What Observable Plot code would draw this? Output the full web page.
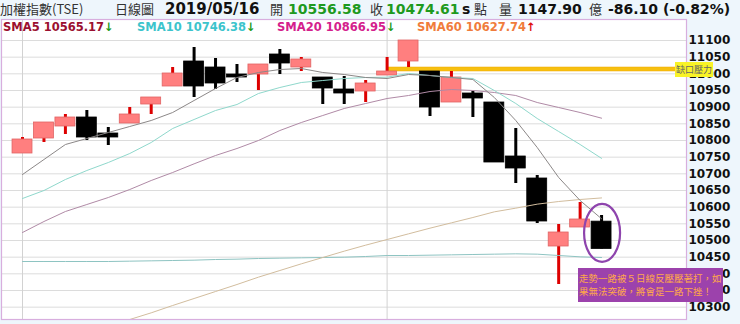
<!DOCTYPE html>
<html><head><meta charset="utf-8">
<script src="https://cdn.jsdelivr.net/npm/d3@7"></script>
<script src="https://cdn.jsdelivr.net/npm/@observablehq/plot@0.6"></script>
<style>
html,body{margin:0;padding:0;background:#eef6fc;width:740px;height:324px;overflow:hidden;}
body{position:relative;font-family:"DejaVu Sans",sans-serif;}
.t{position:absolute;white-space:nowrap;line-height:1;}
.cjk{font-family:"Noto Sans CJK TC","Noto Sans CJK SC",sans-serif;font-size:13px;color:#333;}
.num{font-family:"DejaVu Sans",sans-serif;font-weight:bold;font-size:14px;color:#111;}
.grn{color:#1e9a1e;}
.sma{font-family:"DejaVu Sans",sans-serif;font-weight:bold;font-size:11.5px;}
#chart{position:absolute;left:0;top:18px;z-index:1;}
#legend{position:absolute;left:0;top:0;z-index:2;}
#note{position:absolute;left:578px;top:268px;width:145px;height:34px;background:#9c42ac;color:#ffa84a;z-index:3;
  font-family:"Noto Sans CJK TC",sans-serif;font-size:9.5px;line-height:13px;box-sizing:border-box;padding:4px 0 0 1px;white-space:nowrap;}
#gap{position:absolute;left:675px;top:62px;width:38px;height:15px;background:#f9f326;color:#666;z-index:3;
  font-family:"Noto Sans CJK TC",sans-serif;font-size:9px;line-height:15px;text-align:center;white-space:nowrap;}
</style></head>
<body>
<div id="hdr"></div>
<div id="chart"></div>
<div id="legend"></div>
<div id="gap"></div>
<div id="note"></div>
<script>
// ---------- data ----------
const dates  = ["4/8","4/9","4/10","4/11","4/12","4/15","4/16","4/17","4/18","4/19","4/22","4/23","4/24","4/25","4/26","4/29","4/30","5/2","5/3","5/6","5/7","5/8","5/9","5/10","5/13","5/14","5/15","5/16"];
const opens  = [10761,10806,10842,10869,10821,10851,10908,10962,11037,11019,10998,10998,11058,11019,10989,10953,10947,10995,11037,11007,10914,10941,10914,10752,10686,10482,10539,10556.58];
const highs  = [10809,10854,10878,10890,10839,10899,10929,11019,11079,11046,11028,11028,11073,11049,10989,10992,10980,11049,11100,11007,11007,10947,10914,10836,10695,10548,10614,10575];
const lows   = [10761,10794,10818,10800,10785,10851,10878,10962,10929,10953,10974,10950,10998,11007,10908,10908,10914,10995,11019,10872,10914,10869,10734,10671,10551,10368,10539,10474.61];
const closes = [10803,10854,10869,10809,10809,10878,10929,11001,10962,10971,10989,11028,11031,11043,10956,10941,10971,11007,11100,10899,10989,10926,10734,10716,10557,10524,10563,10474.61];

const sma5   = [10698,10743,10788,10806,10824,10842,10860,10884,10920,10956,10989,11004,11013,11016,11004,10998,10989,10986,10998,10995,10989,10983,10929,10860,10779,10689,10620,10565.17];
const sma10  = [10626,10650,10683,10710,10734,10761,10794,10836,10863,10890,10908,10941,10959,10974,10980,10986,10989,10990,11001,10995,10989,10986,10950,10911,10866,10827,10788,10746.38];
const sma20  = [10524,10557,10587,10608,10629,10653,10680,10704,10730,10755,10776,10800,10830,10854,10875,10896,10911,10926,10935,10947,10953,10950,10944,10935,10914,10899,10884,10866.95];
const sma60  = [10150,10172,10195,10218,10240,10263,10283,10305,10326,10347,10368,10390,10410,10430,10449,10468,10486,10503,10520,10537,10553,10569,10586,10597,10609,10617,10623,10627.74];
const smaLong= [10437,10437,10437,10437,10437,10438,10439,10440,10441,10443,10444,10446,10447,10448,10449,10450,10452,10455,10455,10456,10457,10458,10459,10460,10459,10455,10451,10449];

const yTicks = [10300,10350,10400,10450,10500,10550,10600,10650,10700,10750,10800,10850,10900,10950,11000,11050,11100];
const dividerDates = ["4/8","5/2"];
const gapFrom = "5/2", gapLow = 11007, gapHigh = 11019;

const hdrDate = "2019/05/16", hdrOpen = "10556.58", hdrClose = "10474.61", hdrVol = "1147.90", hdrChg = "-86.10 (-0.82%)";
const smaNames  = ["SMA5","SMA10","SMA20","SMA60"];
const smaLast   = ["10565.17","10746.38","10866.95","10627.74"];
const smaTrend  = ["down","down","down","up"];
const gapText = "缺口壓力";
const noteLines = ["走勢一路被５日線反壓壓著打，如","果無法突破，將會是一路下挫！"];

// ---------- header ----------
const hdr = document.getElementById("hdr");
const H = [
  ["加權指數(TSE)", 0, 1.5, "cjk"],
  ["日線圖", 115, 1.5, "cjk"],
  [hdrDate, 165, 1.8, "num", "font-size:15px"],
  ["開", 270, 1.5, "cjk"],
  [hdrOpen, 288, 2.3, "num grn"],
  ["收", 370, 1.5, "cjk"],
  [hdrClose, 386, 2.3, "num grn"],
  ["s", 462, 2.3, "num"],
  ["點", 474, 1.5, "cjk"],
  ["量", 499, 1.5, "cjk"],
  [hdrVol, 518, 2.3, "num"],
  ["億", 589, 1.5, "cjk"],
  [hdrChg, 608, 2.3, "num"]
];
for (const [txt, x, y, cls, st] of H) {
  const s = document.createElement("span");
  s.className = "t " + cls; s.textContent = txt;
  s.style.cssText = `left:${x}px;top:${y}px;` + (st || "");
  hdr.appendChild(s);
}
const smaColors = ["#9b1030","#3cc4cc","#d4208c","#f07c3c"];
const smaX = [3, 137, 277, 417];
const leg = document.getElementById("legend");
smaNames.forEach((n, k) => {
  const s = document.createElement("span");
  s.className = "t sma";
  s.style.cssText = `left:${smaX[k]}px;top:22px;color:${smaColors[k]}`;
  s.textContent = n + " " + smaLast[k];
  const a = document.createElement("span");
  a.textContent = smaTrend[k] === "up" ? "↑" : "↓";
  a.style.color = smaTrend[k] === "up" ? "#e01010" : "#1a9a1a";
  s.appendChild(a);
  leg.appendChild(s);
});
document.getElementById("gap").textContent = gapText;
document.getElementById("note").innerHTML = noteLines.join("<br>");

// ---------- chart ----------
const candles = dates.map((d, i) => ({i, date: d, open: opens[i], high: highs[i], low: lows[i], close: closes[i], up: closes[i] >= opens[i]}));
const idx = d => dates.indexOf(d);
const series = (arr) => arr.map((v, i) => ({i, v}));
const xDomain = [-0.98, 30.96];

const chart = Plot.plot({
  width: 740, height: 306,
  marginLeft: 1, marginRight: 54, marginTop: 1, marginBottom: 5,
  style: {fontFamily: "DejaVu Sans", fontSize: "12px", fontWeight: "bold", color: "#111", background: "transparent"},
  x: {domain: xDomain, axis: null},
  y: {domain: [10263, 11163], axis: "right", ticks: yTicks, tickSize: 0, tickPadding: 2, tickFormat: d3.format("d"), label: null},
  marks: [
    Plot.frame({fill: "white"}),
    Plot.ruleY(yTicks, {stroke: "#dcdcdc", strokeWidth: 1}),
    Plot.ruleX(dividerDates.map(idx), {stroke: "#d2d2d2", strokeWidth: 1}),
    Plot.rect([{a: idx(gapFrom), lo: gapLow, hi: gapHigh}], {x1: "a", x2: () => xDomain[1], y1: "lo", y2: "hi", fill: "#f7c010", stroke: "#f0a800", strokeWidth: 0.5, clip: true}),
    Plot.ruleX(candles, {x: "i", y1: "low", y2: "high", stroke: d => d.up ? "#dd0000" : "#000", strokeWidth: 3}),
    Plot.rect(candles, {x1: d => d.i - 0.465, x2: d => d.i + 0.465, y1: "open", y2: "close",
      fill: d => d.up ? "#ff7f7f" : "#000", stroke: d => d.up ? "#e06464" : "#000", strokeWidth: 0.8}),
    Plot.line(series(smaLong), {x: "i", y: "v", stroke: "#8ec4c2", strokeWidth: 1, clip: true}),
    Plot.line(series(sma60), {x: "i", y: "v", stroke: "#d2bd9e", strokeWidth: 1, clip: true}),
    Plot.line(series(sma20), {x: "i", y: "v", stroke: "#b08aa6", strokeWidth: 1, clip: true}),
    Plot.line(series(sma10), {x: "i", y: "v", stroke: "#8fd8cc", strokeWidth: 1, clip: true}),
    Plot.line(series(sma5), {x: "i", y: "v", stroke: "#8c8888", strokeWidth: 1, clip: true}),
    Plot.frame({stroke: "#d8aede", strokeWidth: 1.2})
  ]
});
document.getElementById("chart").appendChild(chart);

// ellipse annotation around the last candle
const xs = chart.scale("x"), ys = chart.scale("y");
const last = candles[candles.length - 1];
d3.select(chart).append("ellipse")
  .attr("cx", xs.apply(last.i) + 1)
  .attr("cy", ys.apply((last.open + last.close) / 2) - 2)
  .attr("rx", 18).attr("ry", 29)
  .attr("fill", "none").attr("stroke", "#8e44ad").attr("stroke-width", 2.2);
</script>
</body></html>
